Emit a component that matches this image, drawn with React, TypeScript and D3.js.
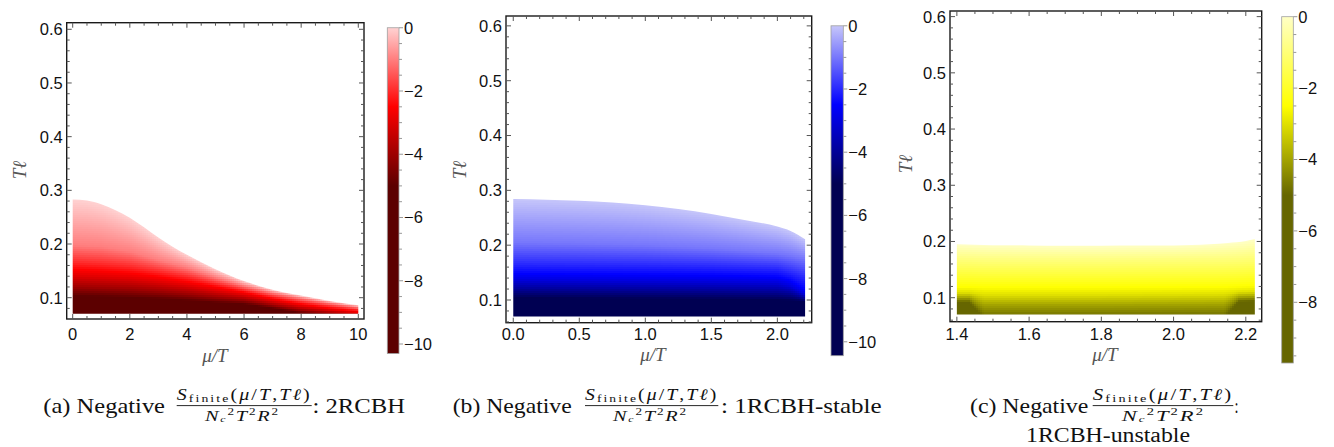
import React, { useMemo } from "react";
import * as d3 from "d3";

// ---------------- data ----------------
// value levels whose Tℓ positions are tabulated per column (level 0 is the top boundary)
const LEVELS = [-1, -2, -2.5, -3, -4, -5, -7, -10];
const BOTTOM_T = 0.07;

// (a) 2RCBH
const A_TOP_X = [0, 0.5, 1, 1.5, 2, 2.5, 3, 3.5, 4, 5, 6, 7, 8, 9, 10];
const A_TOP_T = [0.283, 0.281, 0.274, 0.263, 0.249, 0.231, 0.212, 0.195, 0.18, 0.153, 0.131, 0.115, 0.104, 0.094, 0.086];
const A_COL_X = [0, 1, 2, 3, 4, 5, 6, 7, 8, 9, 10];
const A_LEVEL_T = [
  [0.198, 0.166, 0.152, 0.14, 0.12, 0.103, 0.085, 0.068],
  [0.195, 0.163, 0.15, 0.138, 0.118, 0.102, 0.084, 0.067],
  [0.186, 0.158, 0.146, 0.135, 0.116, 0.1, 0.083, 0.066],
  [0.17, 0.149, 0.139, 0.129, 0.112, 0.098, 0.082, 0.065],
  [0.156, 0.139, 0.13, 0.122, 0.107, 0.095, 0.08, 0.064],
  [0.138, 0.126, 0.12, 0.113, 0.101, 0.091, 0.078, 0.063],
  [0.122, 0.114, 0.11, 0.105, 0.096, 0.088, 0.076, 0.062],
  [0.109, 0.102, 0.098, 0.094, 0.086, 0.08, 0.07, 0.06],
  [0.099, 0.092, 0.088, 0.084, 0.077, 0.071, 0.064, 0.058],
  [0.09, 0.084, 0.08, 0.077, 0.071, 0.066, 0.06, 0.055],
  [0.082, 0.077, 0.074, 0.071, 0.066, 0.062, 0.058, 0.053],
];

// (b) 1RCBH-stable
const B_TOP_X = [0, 0.25, 0.5, 0.75, 1.0, 1.25, 1.5, 1.75, 2.0, 2.1, 2.21];
const B_TOP_T = [0.284, 0.283, 0.281, 0.278, 0.273, 0.266, 0.257, 0.246, 0.234, 0.226, 0.211];
const B_COL_X = [0, 0.5, 1.0, 1.5, 2.0, 2.1, 2.21];
const B_LEVEL_T = [
  [0.205, 0.165, 0.148, 0.137, 0.12, 0.104, 0.086, 0.068],
  [0.203, 0.164, 0.147, 0.136, 0.119, 0.103, 0.085, 0.068],
  [0.2, 0.163, 0.146, 0.135, 0.118, 0.102, 0.085, 0.067],
  [0.194, 0.161, 0.145, 0.134, 0.117, 0.101, 0.084, 0.067],
  [0.185, 0.157, 0.142, 0.132, 0.115, 0.1, 0.083, 0.066],
  [0.181, 0.15, 0.135, 0.125, 0.112, 0.099, 0.083, 0.066],
  [0.175, 0.14, 0.118, 0.11, 0.103, 0.097, 0.082, 0.066],
];

// (c) 1RCBH-unstable
const C_TOP_X = [1.4, 1.5, 1.6, 1.7, 1.8, 1.9, 2.0, 2.05, 2.1, 2.15, 2.2, 2.225];
const C_TOP_T = [0.195, 0.1935, 0.193, 0.1925, 0.1925, 0.1927, 0.193, 0.1937, 0.195, 0.1975, 0.201, 0.2045];
const C_COL_X = [1.4, 1.435, 1.475, 1.8, 2.14, 2.18, 2.225];
const C_LEVEL_T = [
  [0.166, 0.134, 0.119, 0.109, 0.1, 0.092, 0.07, 0.05],
  [0.166, 0.134, 0.119, 0.109, 0.1, 0.092, 0.07, 0.05],
  [0.165, 0.133, 0.118, 0.105, 0.087, 0.064, 0.04, 0.01],
  [0.165, 0.133, 0.118, 0.105, 0.087, 0.064, 0.04, 0.01],
  [0.167, 0.134, 0.119, 0.106, 0.088, 0.065, 0.04, 0.01],
  [0.168, 0.135, 0.12, 0.11, 0.101, 0.093, 0.07, 0.05],
  [0.17, 0.137, 0.121, 0.111, 0.102, 0.094, 0.07, 0.05],
];

// ticks
const Y_TICKS = [0.1, 0.2, 0.3, 0.4, 0.5, 0.6];
const A_X_TICKS = [0, 2, 4, 6, 8, 10];
const B_X_TICKS = [0, 0.5, 1, 1.5, 2];
const C_X_TICKS = [1.4, 1.6, 1.8, 2.0, 2.2];
const CB_TICKS_A = [0, -2, -4, -6, -8, -10];
const CB_TICKS_B = [0, -2, -4, -6, -8, -10];
const CB_TICKS_C = [0, -2, -4, -6, -8];

// colour maps: values at COLOR_STOPS, flat below the last one
const COLOR_STOPS = [0, -2.5, -5];
const A_COLORS = ["#ffd2d2", "#ff0000", "#5c0000"];
const B_COLORS = ["#c6c6fa", "#0000ff", "#000052"];
const C_COLORS = ["#ffffc6", "#ffff00", "#666600"];
const A_MIN = -10.3;
const B_MIN = -10.44;
const C_MIN = -9.7;

// ---------------- layout ----------------
type Panel = {
  id: string;
  frame: [number, number, number, number];
  xDom: [number, number];
  yDom: [number, number];
  xTicks: number[];
  xMinor: number;
  xFmt: (v: number) => string;
  topX: number[];
  topT: number[];
  colX: number[];
  levelT: number[][];
  colors: string[];
  vmin: number;
  cbar: [number, number, number, number];
  cbTicks: number[];
  xLabel: [number, number];
  yLabel: [number, number];
};

const PANELS: Panel[] = [
  {
    id: "a", frame: [66.7, 22.7, 364, 319], xDom: [-0.21, 10.2], yDom: [0.0603, 0.6123],
    xTicks: A_X_TICKS, xMinor: 0.5, xFmt: d3.format("d"),
    topX: A_TOP_X, topT: A_TOP_T, colX: A_COL_X, levelT: A_LEVEL_T, colors: A_COLORS, vmin: A_MIN,
    cbar: [387.3, 399, 27.75, 353.5], cbTicks: CB_TICKS_A, xLabel: [215, 361.5], yLabel: [19, 170],
  },
  {
    id: "b", frame: [506, 16, 811.7, 322.7], xDom: [-0.055, 2.26], yDom: [0.0586, 0.618],
    xTicks: B_X_TICKS, xMinor: 0.1, xFmt: d3.format(".1f"),
    topX: B_TOP_X, topT: B_TOP_T, colX: B_COL_X, levelT: B_LEVEL_T, colors: B_COLORS, vmin: B_MIN,
    cbar: [831, 843.3, 25.8, 355.7], cbTicks: CB_TICKS_B, xLabel: [653, 360.5], yLabel: [459, 170],
  },
  {
    id: "c", frame: [950, 11, 1261.7, 321.7], xDom: [1.381, 2.244], yDom: [0.0573, 0.61],
    xTicks: C_X_TICKS, xMinor: 0.05, xFmt: d3.format(".1f"),
    topX: C_TOP_X, topT: C_TOP_T, colX: C_COL_X, levelT: C_LEVEL_T, colors: C_COLORS, vmin: C_MIN,
    cbar: [1281.7, 1293.3, 16.7, 363], cbTicks: CB_TICKS_C, xLabel: [1105, 360.5], yLabel: [905, 164],
  },
];

const SANS = "'Liberation Sans', Arial, sans-serif";
const SERIF = "'Liberation Serif', 'Times New Roman', serif";

function minorTicks(dom: [number, number], step: number, majors: number[]) {
  const out: number[] = [];
  const i0 = Math.ceil(dom[0] / step - 1e-9), i1 = Math.floor(dom[1] / step + 1e-9);
  for (let i = i0; i <= i1; i++) {
    const v = +(i * step).toFixed(6);
    if (!majors.some((m) => Math.abs(m - v) < step / 10)) out.push(v);
  }
  return out;
}

function PanelView({ p }: { p: Panel }) {
  const [fx0, fy0, fx1, fy1] = p.frame;
  const xs = d3.scaleLinear().domain(p.xDom).range([fx0, fx1]);
  const ys = d3.scaleLinear().domain(p.yDom).range([fy1, fy0]);

  const cells = useMemo(() => {
    const top = d3.scaleLinear().domain(p.topX).range(p.topT).clamp(true);
    const lev = LEVELS.map((_, k) =>
      d3.scaleLinear().domain(p.colX).range(p.levelT.map((r) => r[k])).clamp(true)
    );
    const color = d3.scaleLinear<string>().domain(COLOR_STOPS).range(p.colors).clamp(true);
    const x0 = Math.floor(xs(p.topX[0]));
    const x1 = Math.ceil(xs(p.topX[p.topX.length - 1]));
    const yb = Math.ceil(ys(BOTTOM_T));
    const yt = Math.floor(ys(d3.max(p.topT) as number)) - 2;
    const out: { x: number; y: number; c: string }[] = [];
    for (let px = x0; px < x1; px += 2) {
      const xv = Math.min(Math.max(xs.invert(px + 1), p.topX[0]), p.topX[p.topX.length - 1]);
      const pos = [top(xv), ...lev.map((s) => s(xv))];
      const f = d3.scaleLinear().domain(pos).range([0, ...LEVELS]);
      const ytopPx = ys(pos[0]);
      for (let py = yt; py < yb; py += 2) {
        if (py + 2 < ytopPx - 3) continue;
        out.push({ x: px, y: py, c: color(f(ys.invert(py + 1))) });
      }
    }
    return out;
  }, [p]);

  const clipD = d3
    .area<number>()
    .x((_, i) => xs(p.topX[i]))
    .y0(ys(BOTTOM_T))
    .y1((d) => ys(d))
    .curve(d3.curveMonotoneX)(p.topT) as string;

  const yMinor = minorTicks(p.yDom, 0.02, Y_TICKS);
  const xMinor = minorTicks(p.xDom, p.xMinor, p.xTicks);
  const tickColor = "#555";
  const MAJ = 5, MIN = 3;

  // colorbar
  const [cx0, cx1, cyTop, cyBot] = p.cbar;
  const cs = d3.scaleLinear().domain([0, p.vmin]).range([cyTop, cyBot]);
  const cbMinor = minorTicks([p.vmin, 0], 0.5, p.cbTicks);
  const gradId = `cb-${p.id}`;
  const clipId = `clip-${p.id}`;

  return (
    <g>
      <defs>
        <clipPath id={clipId}>
          <path d={clipD} />
        </clipPath>
        <linearGradient id={gradId} x1="0" y1="0" x2="0" y2="1">
          {COLOR_STOPS.map((v, i) => (
            <stop key={i} offset={v / p.vmin} stopColor={p.colors[i]} />
          ))}
          <stop offset={1} stopColor={p.colors[p.colors.length - 1]} />
        </linearGradient>
      </defs>

      <g clipPath={`url(#${clipId})`} shapeRendering="crispEdges">
        {cells.map((c, i) => (
          <rect key={i} x={c.x} y={c.y} width={2} height={2} fill={c.c} />
        ))}
      </g>

      {/* frame */}
      <rect x={fx0} y={fy0} width={fx1 - fx0} height={fy1 - fy0} fill="none" stroke="#1a1a1a" strokeWidth={1.4} />

      {/* x ticks (bottom & top) */}
      {p.xTicks.map((t) => (
        <g key={"xt" + t}>
          <line x1={xs(t)} x2={xs(t)} y1={fy1} y2={fy1 - MAJ} stroke={tickColor} />
          <line x1={xs(t)} x2={xs(t)} y1={fy0} y2={fy0 + MAJ} stroke={tickColor} />
          <text x={xs(t)} y={339.5} textAnchor="middle" fontFamily={SANS} fontSize={16.5} fill="#111">
            {p.xFmt(t)}
          </text>
        </g>
      ))}
      {xMinor.map((t) => (
        <g key={"xm" + t}>
          <line x1={xs(t)} x2={xs(t)} y1={fy1} y2={fy1 - MIN} stroke={tickColor} />
          <line x1={xs(t)} x2={xs(t)} y1={fy0} y2={fy0 + MIN} stroke={tickColor} />
        </g>
      ))}
      {/* y ticks (left & right) */}
      {Y_TICKS.map((t) => (
        <g key={"yt" + t}>
          <line x1={fx0} x2={fx0 + MAJ} y1={ys(t)} y2={ys(t)} stroke={tickColor} />
          <line x1={fx1} x2={fx1 - MAJ} y1={ys(t)} y2={ys(t)} stroke={tickColor} />
          <text x={fx0 - 4} y={ys(t)} dy="0.36em" textAnchor="end" fontFamily={SANS} fontSize={16.5} fill="#111">
            {d3.format(".1f")(t)}
          </text>
        </g>
      ))}
      {yMinor.map((t) => (
        <g key={"ym" + t}>
          <line x1={fx0} x2={fx0 + MIN} y1={ys(t)} y2={ys(t)} stroke={tickColor} />
          <line x1={fx1} x2={fx1 - MIN} y1={ys(t)} y2={ys(t)} stroke={tickColor} />
        </g>
      ))}

      {/* axis labels */}
      <text x={p.xLabel[0]} y={p.xLabel[1]} textAnchor="middle" fontFamily={SERIF} fontStyle="italic" fontSize={19} fill="#555">
        μ/T
      </text>
      <text
        transform={`translate(${p.yLabel[0]},${p.yLabel[1]}) rotate(-90)`}
        textAnchor="middle"
        dy="0.35em"
        fontFamily={SERIF}
        fontStyle="italic"
        fontSize={19}
        fill="#555"
      >
        Tℓ
      </text>

      {/* colorbar */}
      <rect x={cx0} y={cyTop} width={cx1 - cx0} height={cyBot - cyTop} fill={`url(#${gradId})`} stroke="#a0a0a0" strokeWidth={0.8} />
      {cbMinor.map((v) => (
        <line key={"cm" + v} x1={cx1} x2={cx1 + 3} y1={cs(v)} y2={cs(v)} stroke="#999" />
      ))}
      {p.cbTicks.map((v) => (
        <g key={"ct" + v}>
          <line x1={cx1} x2={cx1 + 4} y1={cs(v)} y2={cs(v)} stroke="#999" />
          <text x={cx1 + 5} y={cs(v)} dy="0.36em" fontFamily={SANS} fontSize={16.5} fill="#111">
            {v === 0 ? "0" : "\u2212" + Math.abs(v)}
          </text>
        </g>
      ))}
    </g>
  );
}

type Cap = {
  label: string;
  lab: [number, number];
  num: [number, number];
  den: [number, number];
  after: string;
  aft: [number, number];
  line2?: { text: string; x: [number, number] };
};

const CAPTIONS: Cap[] = [
  { label: "(a) Negative", lab: [43.3, 165], num: [176.7, 311.7], den: [205, 280], after: ": 2RCBH", aft: [312.5, 405] },
  { label: "(b) Negative", lab: [452.7, 571.7], num: [585, 718.3], den: [613, 688], after: ": 1RCBH-stable", aft: [721, 881.7] },
  {
    label: "(c) Negative", lab: [970, 1088.3], num: [1092.7, 1233.3], den: [1121.7, 1205], after: ":", aft: [1234.5, 1238.5],
    line2: { text: "1RCBH-unstable", x: [1026, 1190] },
  },
];

function Caption({ c }: { c: Cap }) {
  const base = 412.7;
  return (
    <g fontFamily={SERIF} fill="#111">
      <text x={c.lab[0]} y={base} fontSize={22} textLength={c.lab[1] - c.lab[0]} lengthAdjust="spacingAndGlyphs">
        {c.label}
      </text>
      <text
        x={c.num[0]}
        y={400.2}
        fontSize={16}
        letterSpacing={1.7}
        textLength={c.num[1] - c.num[0]}
        lengthAdjust="spacingAndGlyphs"
      >
        <tspan fontStyle="italic">S</tspan>
        <tspan fontSize={11} dy={2}>finite</tspan>
        <tspan dy={-2}>(</tspan>
        <tspan fontStyle="italic">μ</tspan>
        <tspan>/</tspan>
        <tspan fontStyle="italic">T</tspan>
        <tspan>,</tspan>
        <tspan fontStyle="italic">T</tspan>
        <tspan fontStyle="italic">ℓ</tspan>
        <tspan>)</tspan>
      </text>
      <line x1={c.num[0]} x2={c.num[1]} y1={405.6} y2={405.6} stroke="#111" strokeWidth={0.9} />
      <text
        x={c.den[0]}
        y={420.5}
        fontSize={15.5}
        letterSpacing={1.4}
        textLength={c.den[1] - c.den[0]}
        lengthAdjust="spacingAndGlyphs"
      >
        <tspan fontStyle="italic">N</tspan>
        <tspan fontSize={9} fontStyle="italic" dy={1.5}>c</tspan>
        <tspan fontSize={10} dy={-7}>2</tspan>
        <tspan fontStyle="italic" dy={5.5}>T</tspan>
        <tspan fontSize={10} dy={-5.5}>2</tspan>
        <tspan fontStyle="italic" dy={5.5}>R</tspan>
        <tspan fontSize={10} dy={-5.5}>2</tspan>
      </text>
      <text x={c.aft[0]} y={base} fontSize={22} textLength={c.aft[1] - c.aft[0]} lengthAdjust="spacingAndGlyphs">
        {c.after}
      </text>
      {c.line2 && (
        <text x={c.line2.x[0]} y={442} fontSize={20} textLength={c.line2.x[1] - c.line2.x[0]} lengthAdjust="spacingAndGlyphs">
          {c.line2.text}
        </text>
      )}
    </g>
  );
}

export default function App() {
  return (
    <svg
      width={1334}
      height={447}
      viewBox="0 0 1334 447"
      style={{ position: "absolute", left: 0, top: 0, background: "#fff" }}
    >
      <rect x={0} y={0} width={1334} height={447} fill="#fff" />
      {PANELS.map((p) => (
        <PanelView key={p.id} p={p} />
      ))}
      {CAPTIONS.map((c, i) => (
        <Caption key={i} c={c} />
      ))}
    </svg>
  );
}
